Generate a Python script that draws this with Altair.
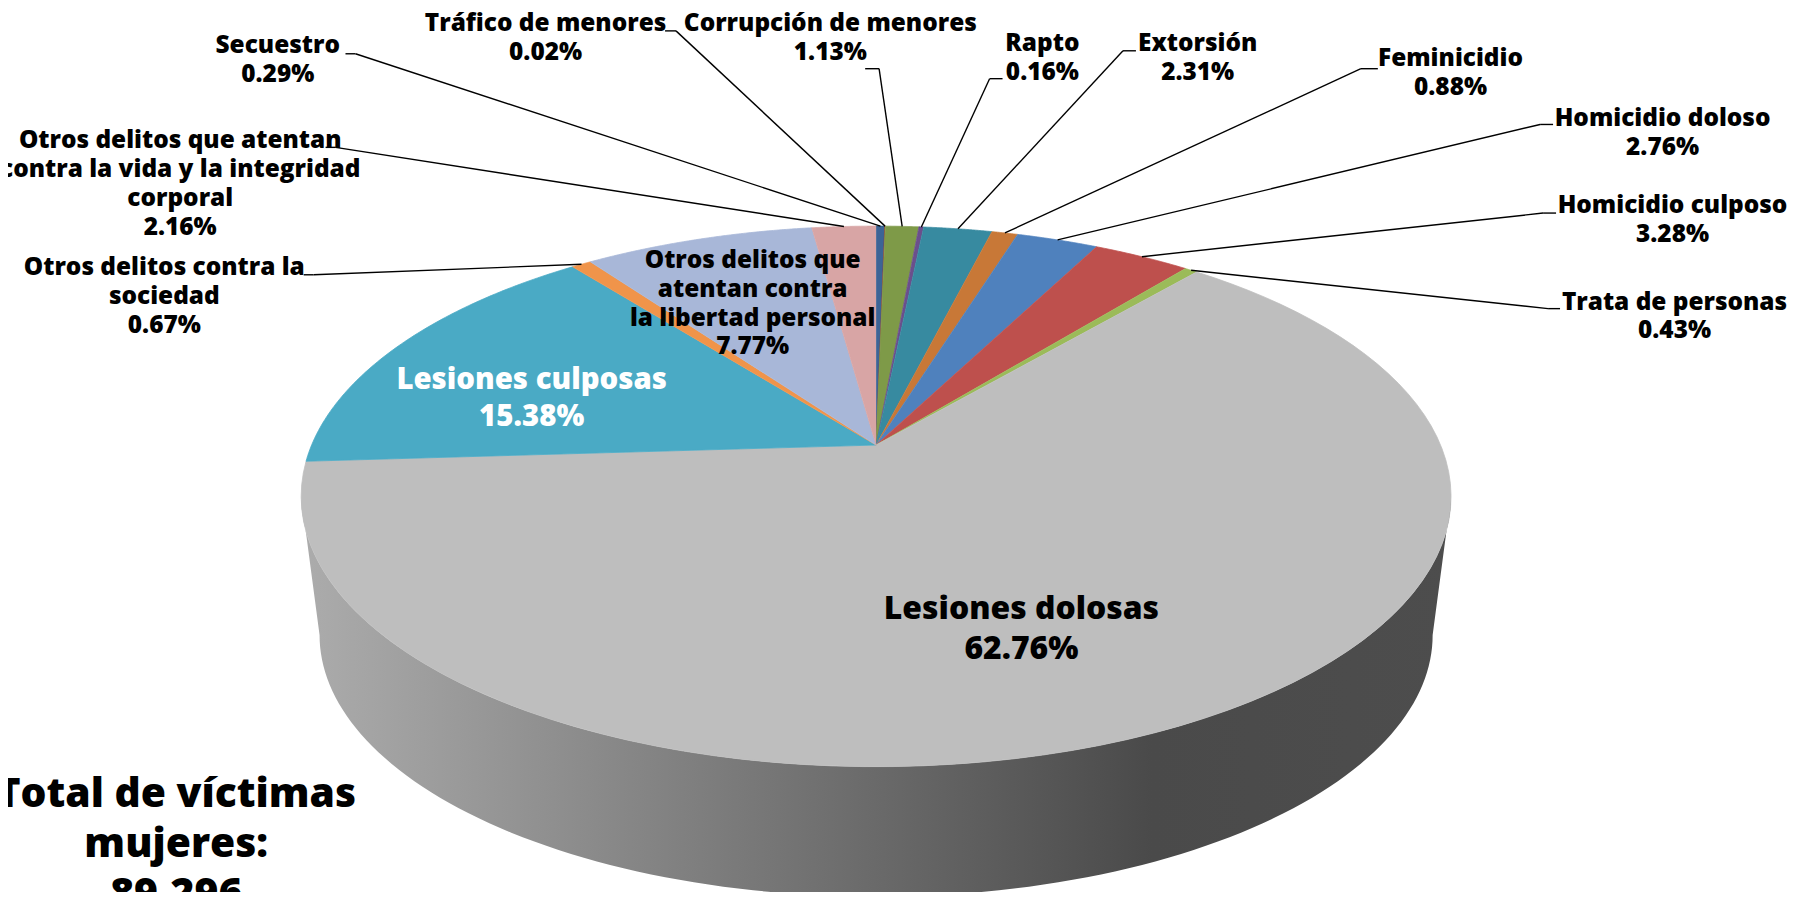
import math
import altair as alt
import pandas as pd

# ---------------- data ----------------
categories = [
    "Secuestro", "Tráfico de menores", "Corrupción de menores", "Rapto",
    "Extorsión", "Feminicidio", "Homicidio doloso", "Homicidio culposo",
    "Trata de personas", "Lesiones dolosas", "Lesiones culposas",
    "Otros delitos contra la sociedad",
    "Otros delitos que atentan contra la libertad personal",
    "Otros delitos que atentan contra la vida y la integridad corporal",
]
label_names = [
    "Secuestro", "Tráfico de menores", "Corrupción de menores", "Rapto",
    "Extorsión", "Feminicidio", "Homicidio doloso", "Homicidio culposo",
    "Trata de personas", "Lesiones dolosas", "Lesiones culposas",
    "Otros delitos contra la\nsociedad",
    "Otros delitos que\natentan contra\nla libertad personal",
    "Otros delitos que atentan\ncontra la vida y la integridad\ncorporal",
]
percentages = [0.29, 0.02, 1.13, 0.16, 2.31, 0.88, 2.76, 3.28, 0.43,
               62.76, 15.38, 0.67, 7.77, 2.16]
slice_colors = ["#3c6496", "#8e3b39", "#7e9a48", "#6b4f8c", "#378aa0",
                "#c87837", "#4f81bd", "#be504d", "#9bbb59", "#bebebe",
                "#4aaac5", "#f0944a", "#a8b7d8", "#d8a5a5"]
total_text = "Total de víctimas\nmujeres:\n89,296"

# ---------------- layout (reference pixel frame) ----------------
# x = centre of the label block, y = centre of its first line
label_x = [279, 548, 834, 1047, 1203, 1457, 1670, 1680, 1682, 1026, 534, 165, 756, 181]
label_y = [44, 22, 22, 42, 42, 57, 118, 205, 302, 610, 380, 267, 260, 140]
label_group = ["s", "s", "s", "s", "s", "s", "s", "s", "s", "big", "mid", "s", "s", "s"]
label_color = ["#000000"] * 10 + ["#ffffff"] + ["#000000"] * 3
leader_x0 = [347, 668, 869, 1007, 1141, 1384, 1560, 1563, 1567, None, None, 305, None, 327]
leader_x1 = [357, 679, 883, 994, 1128, 1367, 1547, 1550, 1555, None, None, 315, None, 337]
leader_y = [52, 29, 67, 77, 49, 67, 123, 212, 308, None, None, 274, None, 146]

# pie geometry (perspective ellipse)
CX, CY, A, B, E = 880, 445, 567, 261.7, 0.19
S, CY2 = 0.968, 586
N = 90
M = 120
TW = math.acos(-E)

W, H = 1790, 884
xs = alt.Scale(domain=[8, 8 + W], nice=False, zero=False)
ys = alt.Scale(domain=[8, 8 + H], nice=False, zero=False, reverse=True)

df = pd.DataFrame({
    "cat": categories,
    "pct": percentages,
    "ord": list(range(len(categories))),
    "txt": [f"{n}\n{p:.2f}%" for n, p in zip(label_names, percentages)],
    "lx": label_x, "ly": label_y, "grp": label_group, "tc": label_color,
    "hx0": leader_x0, "hx1": leader_x1, "hy": leader_y,
})

cscale = alt.Scale(domain=categories, range=slice_colors)


def ex(th):
    return f"{CX} + {A}*sin({th})/(1+{E}*cos({th}))"


def ey(th):
    return f"{CY} - {B}*cos({th})/(1+{E}*cos({th}))"


base = alt.Chart(df).transform_window(
    cum="sum(pct)", sort=[alt.SortField("ord")], frame=[None, 0]
).transform_calculate(start="datum.cum - datum.pct")

# side wall (front of the cylinder)
wall_grad = alt.LinearGradient(
    gradient="linear",
    stops=[alt.GradientStop(color="#acacac", offset=0),
           alt.GradientStop(color="#4a4a4a", offset=0.74),
           alt.GradientStop(color="#4d4d4d", offset=1)],
    x1=0, x2=1, y1=0, y2=0,
)
wall = alt.Chart(alt.sequence(0, 2 * M + 2, as_="k")).transform_calculate(
    side=f"datum.k > {M} ? 1 : 0"
).transform_calculate(
    j=f"datum.side == 1 ? {2 * M + 1} - datum.k : datum.k"
).transform_calculate(
    th=f"{TW} + {2 * math.pi - 2 * TW}*datum.j/{M}",
    sc=f"datum.side == 1 ? {S} : 1",
    cyy=f"datum.side == 1 ? {CY2} : {CY}",
).transform_calculate(
    px=f"{CX} + datum.sc*{A}*sin(datum.th)/(1+{E}*cos(datum.th))",
    py=f"datum.cyy - datum.sc*{B}*cos(datum.th)/(1+{E}*cos(datum.th))",
).mark_line(fill=wall_grad, strokeWidth=0).encode(
    x=alt.X("px:Q", scale=xs, axis=None),
    y=alt.Y("py:Q", scale=ys, axis=None),
    order="k:Q",
)

# top face slices
slices = base.transform_calculate(
    kk=f"sequence(-1, {N + 1})"
).transform_flatten(["kk"]).transform_calculate(
    th=f"2*PI*(datum.start + datum.pct*max(datum.kk,0)/{N})/100"
).transform_calculate(
    px=f"datum.kk < 0 ? {CX} : {ex('datum.th')}",
    py=f"datum.kk < 0 ? {CY} : {ey('datum.th')}",
).mark_line(strokeWidth=0.8, strokeJoin="round").encode(
    x=alt.X("px:Q", scale=xs, axis=None),
    y=alt.Y("py:Q", scale=ys, axis=None),
    order="kk:Q",
    detail="cat:N",
    fill=alt.Fill("cat:N", scale=cscale, legend=None),
    stroke=alt.Stroke("cat:N", scale=cscale, legend=None),
)

# leader lines
lead = base.transform_filter("datum.hy != null").transform_calculate(
    th="2*PI*(datum.start + datum.pct/2)/100"
).transform_calculate(
    px=ex("datum.th"), py=ey("datum.th")
)
lead1 = lead.mark_rule(color="black", strokeWidth=1.4).encode(
    x=alt.X("hx0:Q", scale=xs, axis=None), x2="hx1:Q",
    y=alt.Y("hy:Q", scale=ys, axis=None),
)
lead2 = lead.mark_rule(color="black", strokeWidth=1.4).encode(
    x=alt.X("hx1:Q", scale=xs, axis=None), x2="px:Q",
    y=alt.Y("hy:Q", scale=ys, axis=None), y2="py:Q",
)


# labels
def text_layer(group, size, lh):
    return alt.Chart(df).transform_filter(f"datum.grp == '{group}'").mark_text(
        font="Open Sans", fontWeight=800, fontSize=size, lineHeight=lh,
        lineBreak="\n", align="center", baseline="middle",
    ).encode(
        x=alt.X("lx:Q", scale=xs, axis=None),
        y=alt.Y("ly:Q", scale=ys, axis=None),
        text="txt:N",
        color=alt.Color("tc:N", scale=None),
    )


small_txt = text_layer("s", 24.5, 29)
mid_txt = text_layer("mid", 29.5, 37)
big_txt = text_layer("big", 32, 40)

total = alt.Chart(pd.DataFrame({"t": [total_text], "x": [177], "y": [797]})).mark_text(
    font="Open Sans", fontWeight=800, fontSize=41, lineHeight=50,
    lineBreak="\n", align="center", baseline="middle", color="black",
).encode(
    x=alt.X("x:Q", scale=xs, axis=None),
    y=alt.Y("y:Q", scale=ys, axis=None),
    text="t:N",
)

chart = alt.layer(
    wall, slices, lead1, lead2, small_txt, mid_txt, big_txt, total
).properties(
    width=W, height=H, padding=0,
    autosize=alt.AutoSizeParams(type="none"),
    background="white",
).configure_view(strokeWidth=0)

chart.save("out.html", embed_options={"renderer": "svg", "actions": False})
